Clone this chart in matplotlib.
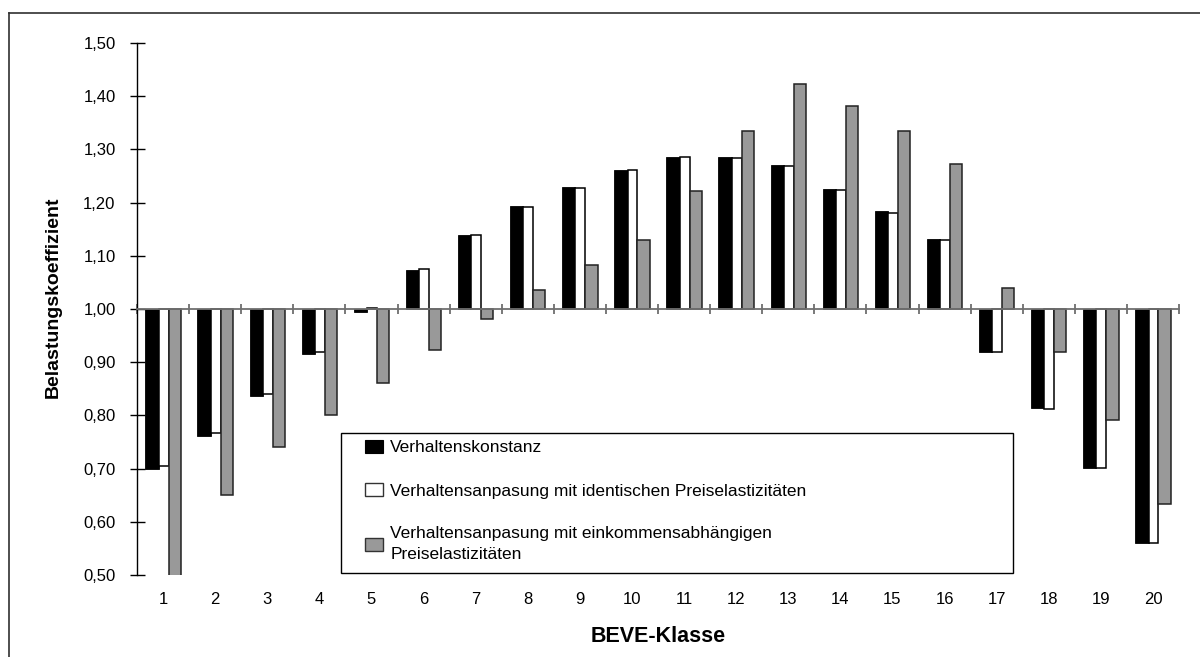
import matplotlib
matplotlib.use("Agg")
import matplotlib.pyplot as plt
from matplotlib.patches import Patch, Rectangle
from matplotlib.lines import Line2D
import numpy as np

plt.rcParams['font.family'] = ['Liberation Sans', 'DejaVu Sans']

# ---- data ----
classes = list(range(1, 21))
class_labels = [str(c) for c in classes]
konstanz = [0.700, 0.762, 0.837, 0.915, 0.994, 1.073, 1.140, 1.193, 1.229, 1.262,
            1.286, 1.286, 1.271, 1.226, 1.184, 1.132, 0.920, 0.814, 0.702, 0.560]
identisch = [0.705, 0.767, 0.841, 0.920, 1.001, 1.075, 1.139, 1.192, 1.228, 1.261,
             1.286, 1.283, 1.269, 1.224, 1.181, 1.129, 0.920, 0.812, 0.702, 0.560]
einkommen = [0.480, 0.650, 0.740, 0.800, 0.861, 0.922, 0.981, 1.036, 1.082, 1.129,
             1.221, 1.335, 1.423, 1.382, 1.335, 1.273, 1.039, 0.919, 0.792, 0.634]
y_ticks = [0.5, 0.6, 0.7, 0.8, 0.9, 1.0, 1.1, 1.2, 1.3, 1.4, 1.5]
y_tick_labels = ["0,50", "0,60", "0,70", "0,80", "0,90", "1,00",
                 "1,10", "1,20", "1,30", "1,40", "1,50"]
series_names = ["Verhaltenskonstanz",
                "Verhaltensanpasung mit identischen Preiselastizitäten",
                "Verhaltensanpasung mit einkommensabhängigen\nPreiselastizitäten"]
x_title = "BEVE-Klasse"
y_title = "Belastungskoeffizient"
base = 1.0

W, H = 1200, 657
fig = plt.figure(figsize=(12, 6.57), dpi=100)
ax = fig.add_axes([137 / W, 1 - 575 / H, (1179 - 137) / W, (575 - 43) / H])

x = np.array(classes, dtype=float)
k = np.array(konstanz) - base
i_ = np.array(identisch) - base
e = np.array(einkommen) - base

gray = '#999999'
ax.bar(x - 0.34, k, width=0.255, bottom=base, align='edge',
       color='black', edgecolor='black', linewidth=0.6, zorder=3)
ax.bar(x - 0.085, i_, width=0.19, bottom=base, align='edge',
       color='white', edgecolor='black', linewidth=1.1, zorder=3)
ax.bar(x + 0.105, e, width=0.235, bottom=base, align='edge',
       color=gray, edgecolor='#222222', linewidth=1.1, zorder=3)

ax.set_xlim(0.5, 20.5)
ax.set_ylim(0.5, 1.5)

# spines
for s in ['right', 'bottom']:
    ax.spines[s].set_visible(False)
ax.spines['left'].set_color('black')
ax.spines['left'].set_linewidth(1.0)
ax.spines['top'].set_position(('data', base))
ax.spines['top'].set_color('#707070')
ax.spines['top'].set_linewidth(1.3)
ax.spines['top'].set_zorder(4)

# y axis
ax.set_yticks(y_ticks)
ax.set_yticklabels(y_tick_labels)
ax.tick_params(axis='y', direction='inout', length=10.8, width=1.0,
               color='black', pad=10, labelsize=12)

# x axis: boundary ticks on the baseline (top spine), labels at centres
ax.set_xticks(np.arange(0.5, 21.0, 1.0))
ax.set_xticks(x, minor=True)
ax.set_xticklabels(class_labels, minor=True)
ax.tick_params(axis='x', which='major', bottom=False, top=True,
               labelbottom=False, labeltop=False, direction='inout',
               length=7.5, width=1.1, color='#555555')
ax.tick_params(axis='x', which='minor', bottom=True, top=False,
               labelbottom=True, length=0, pad=12.5, labelsize=12)

ax.set_xlabel(x_title, fontsize=15.5, fontweight='bold', va='center')
ax.xaxis.set_label_coords(0.5, (575 - 636) / 532)
ax.set_ylabel(y_title, fontsize=14, fontweight='bold', va='center')
ax.yaxis.set_label_coords((53.5 - 137) / 1042, (575 - 297) / 532)

# legend frame and legend
frame = Rectangle(((341 - 137) / 1042, (575 - 573) / 532),
                  (1013 - 341) / 1042, (573 - 433) / 532,
                  transform=ax.transAxes, facecolor='white',
                  edgecolor='black', linewidth=1.0, zorder=5)
ax.add_patch(frame)
handles = [Patch(facecolor='black', edgecolor='black', linewidth=0.8),
           Patch(facecolor='white', edgecolor='#333333', linewidth=1.0),
           Patch(facecolor=gray, edgecolor='#333333', linewidth=1.0)]
leg = ax.legend(handles, series_names, loc='upper left',
                bbox_to_anchor=((365 - 137) / 1042, (575 - 440) / 532),
                frameon=False, borderpad=0, borderaxespad=0,
                fontsize=12.5, handlelength=1.05, handleheight=0.75,
                handletextpad=0.4, labelspacing=1.6)
for t in leg.get_texts():
    t.set_linespacing(1.5)
leg.set_zorder(6)

# outer border (top and left edges visible)
fig.add_artist(Line2D([9 / W, 9 / W], [0, 1 - 13 / H], transform=fig.transFigure,
                      color='#303030', linewidth=1.2))
fig.add_artist(Line2D([9 / W, 1], [1 - 13 / H, 1 - 13 / H], transform=fig.transFigure,
                      color='#303030', linewidth=1.2))

fig.savefig("out.png", dpi=100)
